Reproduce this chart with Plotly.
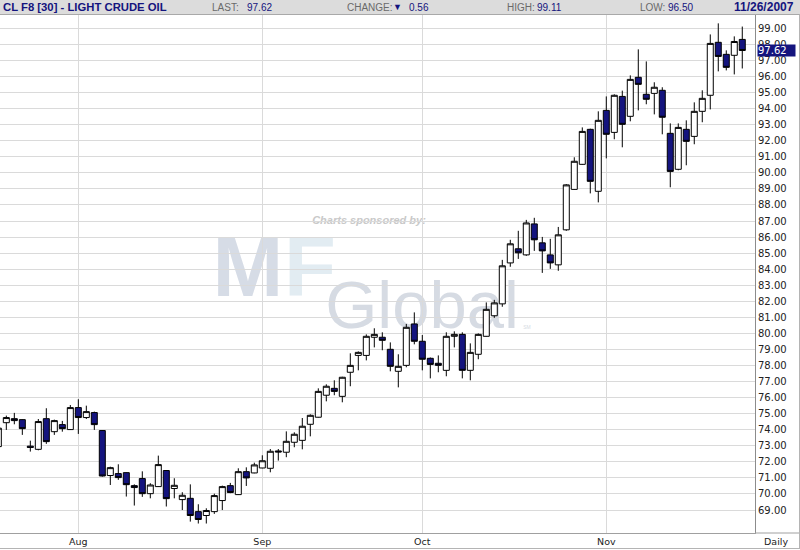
import pandas as pd
import plotly.graph_objects as go

# ---------------- data ----------------
dates = pd.bdate_range("2007-07-18", "2007-11-26")

opens = [72.95, 74.44, 74.69, 74.63, 72.98, 72.78, 74.69, 73.88, 74.32, 74.01,
         75.38, 74.76, 75.07, 73.95, 71.15, 71.27, 71.33, 70.52, 70.96, 70.02,
         70.46, 71.46, 70.34, 69.65, 69.73, 68.90, 68.66, 68.90, 69.59, 70.52,
         69.96, 71.39, 71.31, 71.62, 71.60, 72.68, 72.60, 73.22, 73.34, 74.34,
         74.78, 76.15, 76.58, 76.08, 77.58, 78.63, 78.63, 79.76, 79.76, 79.01,
         77.64, 78.01, 80.59, 79.51, 78.45, 78.14, 77.70, 79.82, 79.94, 77.70,
         78.70, 79.82, 81.10, 81.84, 84.39, 85.27, 84.89, 86.82, 85.64, 84.89,
         84.27, 86.45, 88.97, 90.53, 92.71, 88.85, 93.89, 92.52, 94.76, 93.52,
         95.95, 94.89, 94.95, 95.14, 92.46, 90.22, 92.71, 92.27, 93.83, 94.83,
         98.13, 97.38, 97.32, 98.31]
highs = [74.20, 74.88, 75.05, 74.65, 73.32, 74.67, 75.34, 74.63, 74.55, 75.54,
         75.90, 75.50, 75.13, 73.97, 71.70, 71.85, 71.35, 70.60, 71.41, 70.67,
         72.39, 71.48, 70.98, 70.11, 70.60, 69.36, 69.11, 70.02, 70.52, 70.69,
         71.60, 71.66, 71.95, 72.41, 72.80, 72.80, 73.90, 73.84, 74.73, 74.96,
         76.58, 76.83, 77.08, 77.30, 78.76, 78.88, 79.94, 80.32, 80.07, 79.44,
         78.70, 80.59, 81.31, 79.90, 78.50, 78.63, 80.07, 80.13, 80.07, 79.38,
         80.00, 81.93, 82.09, 84.58, 85.83, 86.39, 87.07, 87.20, 86.01, 85.89,
         86.63, 89.30, 90.97, 92.83, 92.75, 93.83, 94.76, 94.89, 95.12, 96.07,
         97.69, 96.94, 95.64, 95.33, 93.08, 93.08, 93.27, 94.39, 95.14, 98.62,
         99.31, 97.63, 98.50, 99.11]
lows = [72.90, 73.99, 74.34, 73.68, 72.64, 72.72, 73.12, 73.68, 73.88, 73.99,
        73.74, 74.67, 73.99, 71.08, 70.56, 70.88, 69.84, 69.28, 69.82, 69.73,
        70.44, 69.22, 69.73, 69.00, 68.28, 68.16, 68.16, 68.76, 69.00, 70.05,
        69.94, 70.50, 71.29, 71.60, 71.35, 72.08, 72.29, 72.91, 72.78, 73.59,
        74.76, 75.77, 76.15, 75.71, 76.71, 77.70, 78.32, 79.13, 78.95, 77.64,
        76.64, 77.89, 79.32, 77.70, 77.20, 77.58, 77.33, 79.13, 77.20, 77.08,
        78.39, 79.80, 80.97, 81.66, 84.15, 84.64, 84.83, 85.14, 83.77, 84.02,
        83.90, 86.39, 88.95, 90.50, 88.72, 88.16, 90.90, 92.09, 91.59, 93.21,
        93.89, 94.27, 93.64, 92.40, 89.10, 90.16, 90.47, 91.78, 93.15, 93.95,
        96.32, 96.38, 96.13, 96.50]
closes = [74.10, 74.76, 74.57, 74.07, 72.90, 74.51, 73.26, 74.57, 74.07, 75.38,
          74.76, 75.13, 74.32, 71.12, 71.64, 71.02, 70.58, 70.40, 70.02, 70.56,
          71.83, 69.71, 70.54, 69.92, 68.66, 68.41, 68.97, 69.90, 70.46, 70.09,
          71.39, 71.00, 71.81, 72.07, 72.66, 72.62, 73.28, 73.72, 74.22, 74.90,
          76.39, 76.71, 76.39, 77.27, 78.01, 78.82, 79.82, 79.94, 79.57, 77.95,
          77.95, 80.38, 79.51, 78.39, 78.07, 78.01, 79.82, 79.94, 77.70, 78.82,
          79.94, 81.50, 81.90, 84.21, 85.58, 85.02, 86.88, 85.83, 85.14, 84.39,
          86.14, 89.25, 90.72, 92.58, 89.47, 93.27, 92.40, 94.83, 93.02, 95.82,
          95.51, 94.58, 95.33, 93.46, 90.09, 92.83, 91.96, 93.83, 94.64, 98.06,
          97.25, 96.57, 98.18, 97.62]

month_labels = ["Aug", "Sep", "Oct", "Nov"]
y_ticks = list(range(69, 100))
y_ticklabels = [f"{v:.2f}" for v in y_ticks]

title_text = "CL F8 [30] - LIGHT CRUDE OIL"
last_value = "97.62"
change_value = "0.56"
high_value = "99.11"
low_value = "96.50"
date_text = "11/26/2007"

# ---------------- layout geometry ----------------
W, H = 800, 550
ML, MR, MT, MB = 0, 45, 15, 17
PW, PH = W - ML - MR, H - MT - MB


def px(x):
    return (x - ML) / PW


def py(y):
    return (H - MB - y) / PH


NAVY = "#14147e"
GRID = "#dadada"

xi = list(range(len(dates)))
month_pos = [i for i in range(1, len(dates)) if dates[i].month != dates[i - 1].month]

fig = go.Figure(
    go.Candlestick(
        x=xi, open=opens, high=highs, low=lows, close=closes,
        increasing=dict(line=dict(color="black", width=1), fillcolor="white"),
        decreasing=dict(line=dict(color="black", width=1), fillcolor=NAVY),
        whiskerwidth=0, showlegend=False, hoverinfo="skip",
    )
)

shapes = []
annotations = []

# header bar
shapes.append(dict(type="rect", xref="paper", yref="paper", x0=px(0), x1=px(W),
                   y0=py(14.5), y1=py(0), fillcolor="#dcdcdc", line=dict(width=0), layer="above"))
shapes.append(dict(type="line", xref="paper", yref="paper", x0=px(0), x1=px(W),
                   y0=py(14.5), y1=py(14.5), line=dict(color="#a9a9a9", width=1), layer="above"))
# bottom / right borders and axis extension
shapes.append(dict(type="line", xref="paper", yref="paper", x0=px(755), x1=px(W),
                   y0=0, y1=0, line=dict(color="#a0a0a0", width=1), layer="above"))
shapes.append(dict(type="line", xref="paper", yref="paper", x0=px(0), x1=px(W),
                   y0=py(548.5), y1=py(548.5), line=dict(color="#b4b4b4", width=1), layer="above"))
shapes.append(dict(type="line", xref="paper", yref="paper", x0=px(799.5), x1=px(799.5),
                   y0=py(548.5), y1=py(14.5), line=dict(color="#b4b4b4", width=1), layer="above"))

# watermark (below gridlines)
def wm(text, cx, cy, w, h, size, color, bold=False, italic=False):
    fam = "Liberation Sans"
    t = text
    if bold:
        t = f"<b>{t}</b>"
    if italic:
        t = f"<i>{t}</i>"
    shapes.append(dict(type="rect", xref="paper", yref="paper",
                       x0=px(cx - w / 2), x1=px(cx + w / 2), y0=py(cy + h / 2), y1=py(cy - h / 2),
                       line=dict(width=0), fillcolor="rgba(0,0,0,0)", layer="below",
                       label=dict(text=t, textposition="middle center",
                                  font=dict(family=fam, size=size, color=color))))

wm("Charts sponsored by:", 369, 219, 130, 14, 11, "#c9c9c9", bold=True, italic=True)
wm("M", 248, 258, 90, 70, 85, "#d6dce6", bold=True)
wm("F", 310, 258, 60, 70, 85, "#e2ecf2", bold=True)
wm("Global", 422, 298, 210, 70, 67, "#d6dbe3")
wm("SM", 527, 327, 12, 8, 5, "#d6dbe3")

# header texts
def htext(text, x, size, color, bold=False, family="Liberation Sans"):
    t = f"<b>{text}</b>" if bold else text
    annotations.append(dict(text=t, xref="paper", yref="paper", x=px(x), y=py(7.5),
                            xanchor="left", yanchor="middle", showarrow=False,
                            font=dict(family=family, size=size, color=color), borderpad=0))

GRAYLBL = "#6a6a6a"
htext(title_text, 2, 11.3, NAVY, bold=True)
htext("LAST:", 211, 10, GRAYLBL)
htext(last_value, 246, 10, NAVY)
htext("CHANGE:", 346, 10, GRAYLBL)
htext("▼", 392, 9, NAVY)
htext(change_value, 408, 10, NAVY)
htext("HIGH:", 506, 10, GRAYLBL)
htext(high_value, 536, 10, NAVY)
htext("LOW:", 639, 10, GRAYLBL)
htext(low_value, 667, 10, NAVY)
htext(date_text, 733, 12, NAVY, bold=True)

# last price box
annotations.append(dict(text=last_value, xref="paper", yref="y", x=px(757), y=float(closes[-1]),
                        xanchor="left", yanchor="middle", showarrow=False, align="left",
                        bgcolor=NAVY, width=37, height=11, borderpad=0,
                        font=dict(family="DejaVu Sans", size=10, color="white")))
# Daily label
annotations.append(dict(text="Daily", xref="paper", yref="paper", x=px(776), y=py(541),
                        xanchor="center", yanchor="middle", showarrow=False,
                        font=dict(family="DejaVu Sans", size=9.5, color="#222222")))

fig.update_layout(
    width=W, height=H,
    margin=dict(l=ML, r=MR, t=MT, b=MB, pad=0),
    paper_bgcolor="white", plot_bgcolor="white",
    showlegend=False, boxgap=0.25, boxgroupgap=0,
    shapes=shapes, annotations=annotations,
    hovermode=False,
    xaxis=dict(
        range=[0.21, 94.59], tickmode="array", tickvals=month_pos, ticktext=month_labels,
        showgrid=True, gridcolor=GRID, gridwidth=1, zeroline=False,
        showline=True, linecolor="#a0a0a0", linewidth=1, ticks="",
        tickfont=dict(family="DejaVu Sans", size=9.5, color="#222222"),
        rangeslider=dict(visible=False), fixedrange=True,
    ),
    yaxis=dict(
        side="right", range=[67.57, 99.83], tickmode="array", tickvals=y_ticks,
        ticktext=y_ticklabels, showgrid=True, gridcolor=GRID, gridwidth=1, zeroline=False,
        showline=True, linecolor="#8c8c8c", linewidth=1, ticks="",
        tickfont=dict(family="DejaVu Sans", size=10, color="#222222"), fixedrange=True,
    ),
)

fig.write_html("out.html", config={"displayModeBar": False},
               post_script="document.body.style.margin='0';document.body.style.padding='0';")
